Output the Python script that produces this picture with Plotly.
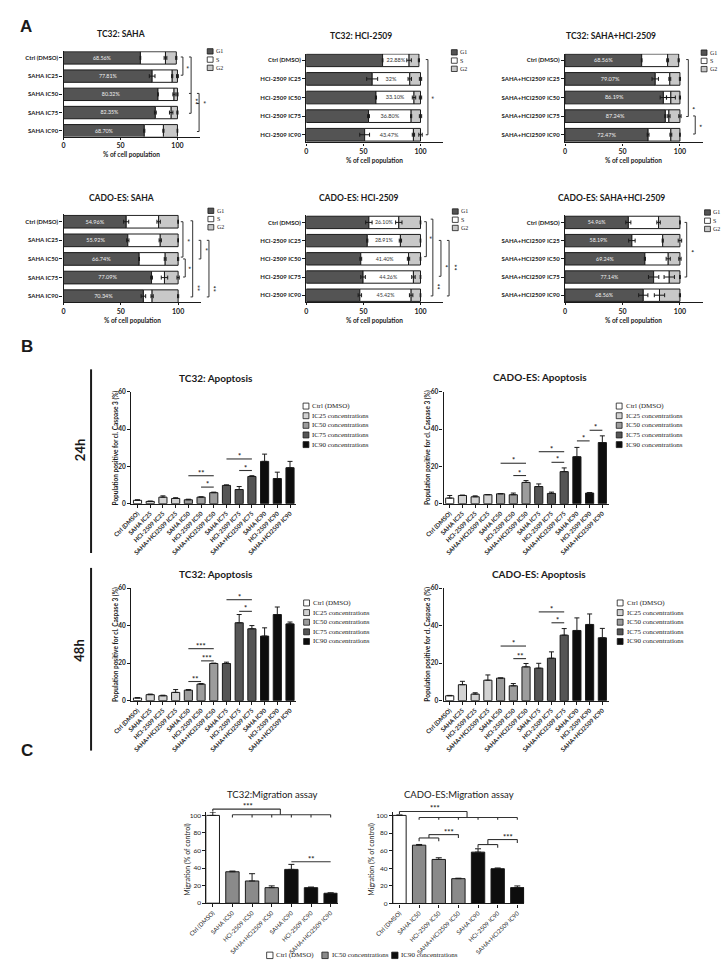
import plotly.graph_objects as go

W, H = 726, 972
SANS = "Lato"
SERIF = "Liberation Serif"
INK = "#1a1a1a"

# ======================= DATA =======================
# ---- Panel A: cell-cycle distribution (% of cell population) ----
phases = ["G1", "S", "G2"]
cats_saha = ["Ctrl (DMSO)", "SAHA IC25", "SAHA IC50", "SAHA IC75", "SAHA IC90"]
cats_hci = ["Ctrl (DMSO)", "HCI-2509 IC25", "HCI-2509 IC50", "HCI-2509 IC75", "HCI-2509 IC90"]
cats_combo = ["Ctrl (DMSO)", "SAHA+HCI2509 IC25", "SAHA+HCI2509 IC50",
              "SAHA+HCI2509 IC75", "SAHA+HCI2509 IC90"]
a_titles = ["TC32: SAHA", "TC32: HCI-2509", "TC32: SAHA+HCI-2509",
            "CADO-ES: SAHA", "CADO-ES: HCI-2509", "CADO-ES: SAHA+HCI-2509"]

tc32_saha_g1 = [67.5, 77.8, 82.9, 80.6, 70.9]
tc32_saha_s = [22.0, 17.6, 14.1, 13.9, 16.8]
tc32_saha_g2 = [9.5, 4.6, 3.0, 5.5, 12.3]
tc32_saha_g1_err = [0.3, 2.5, 0.3, 0.8, 0.5]
tc32_saha_s_err = [1.2, 0.5, 1.0, 1.5, 0.5]
tc32_saha_g2_err = [0.5, 0.8, 0.5, 0.5, 0.3]
tc32_saha_lbl = ["68.56%", "77.81%", "80.32%", "82.35%", "68.70%"]

tc32_hci_g1 = [66.8, 57.7, 61.0, 54.5, 51.1]
tc32_hci_s = [23.2, 32.9, 33.3, 37.3, 42.7]
tc32_hci_g2 = [8.6, 9.4, 5.7, 8.2, 6.2]
tc32_hci_g1_err = [0.3, 4.8, 0.5, 0.8, 4.3]
tc32_hci_s_err = [2.0, 1.5, 1.5, 0.5, 1.0]
tc32_hci_g2_err = [0.5, 1.0, 1.0, 1.0, 1.5]
tc32_hci_lbl = ["22.88%", "32%", "33.10%", "36.80%", "43.47%"]

tc32_combo_g1 = [66.7, 78.5, 85.6, 87.3, 72.3]
tc32_combo_s = [22.6, 12.7, 6.5, 3.1, 19.8]
tc32_combo_g2 = [9.6, 8.8, 7.9, 9.6, 7.9]
tc32_combo_g1_err = [0.3, 2.8, 2.8, 0.5, 0.8]
tc32_combo_s_err = [0.8, 0.8, 3.9, 1.0, 0.8]
tc32_combo_g2_err = [0.5, 0.5, 0.5, 1.0, 0.3]
tc32_combo_lbl = ["68.56%", "79.07%", "86.19%", "87.24%", "72.47%"]

cado_saha_g1 = [54.7, 56.1, 66.0, 76.8, 69.7]
cado_saha_s = [28.3, 28.3, 22.7, 11.3, 7.6]
cado_saha_g2 = [17.0, 15.6, 11.3, 11.9, 22.7]
cado_saha_g1_err = [2.2, 1.0, 0.3, 0.8, 2.0]
cado_saha_s_err = [1.5, 1.0, 0.8, 2.8, 1.0]
cado_saha_g2_err = [0.3, 0.3, 0.5, 1.0, 0.5]
cado_saha_lbl = ["54.96%", "55.92%", "66.74%", "77.09%", "70.34%"]

cado_hci_g1 = [54.8, 53.4, 47.7, 49.7, 46.9]
cado_hci_s = [26.2, 29.0, 41.8, 44.1, 44.9]
cado_hci_g2 = [19.0, 17.6, 10.5, 6.2, 8.2]
cado_hci_g1_err = [2.8, 0.5, 0.8, 2.0, 1.5]
cado_hci_s_err = [2.8, 1.0, 1.0, 1.5, 1.5]
cado_hci_g2_err = [0.3, 0.3, 0.3, 0.3, 0.3]
cado_hci_lbl = ["26.10%", "28.91%", "41.40%", "44.26%", "45.42%"]

cado_combo_g1 = [55.1, 58.2, 69.5, 77.1, 68.1]
cado_combo_s = [26.3, 26.8, 20.3, 13.6, 14.1]
cado_combo_g2 = [18.6, 15.0, 10.2, 9.3, 17.8]
cado_combo_g1_err = [2.2, 2.8, 0.5, 4.5, 4.0]
cado_combo_s_err = [1.5, 0.5, 1.8, 4.5, 4.5]
cado_combo_g2_err = [0.3, 1.5, 1.0, 0.3, 0.5]
cado_combo_lbl = ["54.96%", "58.19%", "69.24%", "77.14%", "68.56%"]

# ---- Panel B: apoptosis (population positive for cl. Caspase 3, %) ----
apop_cats = ["Ctrl (DMSO)", "SAHA IC25", "HCI-2509 IC25", "SAHA+HCI2509 IC25",
             "SAHA IC50", "HCI-2509 IC50", "SAHA+HCI2509 IC50",
             "SAHA IC75", "HCI-2509 IC75", "SAHA+HCI2509 IC75",
             "SAHA IC90", "HCI-2509 IC90", "SAHA+HCI2509 IC90"]
apop_groups = ["Ctrl (DMSO)", "IC25 concentrations", "IC50 concentrations",
               "IC75 concentrations", "IC90 concentrations"]
apop_group_of = [0, 1, 1, 1, 2, 2, 2, 3, 3, 3, 4, 4, 4]
b_titles = ["TC32: Apoptosis", "CADO-ES: Apoptosis", "TC32: Apoptosis", "CADO-ES: Apoptosis"]

tc32_24h = [1.8, 1.2, 3.5, 2.8, 2.1, 3.5, 5.9, 9.8, 7.6, 14.6, 22.7, 13.5, 19.3]
tc32_24h_err = [0.3, 0.2, 0.7, 0.4, 0.3, 0.2, 0.3, 0.3, 1.6, 0.4, 3.9, 3.4, 3.4]
cado_24h = [3.0, 4.4, 3.7, 4.8, 5.3, 4.8, 11.4, 9.2, 5.5, 17.2, 25.2, 5.7, 32.8]
cado_24h_err = [1.4, 0.2, 0.5, 0.1, 0.1, 0.9, 1.0, 1.4, 0.7, 2.0, 5.0, 0.3, 3.6]
tc32_48h = [1.4, 3.2, 2.6, 4.4, 5.6, 8.8, 19.8, 19.8, 41.5, 38.3, 34.4, 45.9, 40.9]
tc32_48h_err = [0.2, 0.3, 0.3, 1.5, 0.3, 0.3, 0.2, 0.7, 4.4, 1.7, 4.4, 4.0, 1.0]
cado_48h = [2.6, 8.5, 3.5, 10.9, 12.0, 7.9, 18.0, 17.3, 22.6, 34.9, 37.4, 40.6, 33.5]
cado_48h_err = [0.2, 1.8, 0.7, 2.8, 0.1, 1.2, 1.8, 2.6, 3.4, 3.5, 6.7, 5.6, 5.0]

# significance: (from category, to category, height, stars)
tc32_24h_sig = [(4, 6, 15.0, "**"), (5, 6, 8.9, "*"), (7, 9, 24.0, "*"), (8, 9, 17.8, "*")]
cado_24h_sig = [(4, 6, 21.7, "*"), (5, 6, 15.1, "*"), (7, 9, 27.9, "*"), (8, 9, 22.2, "*"),
                (10, 11, 33.7, "*"), (11, 12, 39.4, "*")]
tc32_48h_sig = [(4, 6, 27.7, "***"), (5, 6, 21.2, "***"), (4, 5, 10.2, "**"),
                (7, 9, 53.8, "*"), (8, 9, 47.6, "*")]
cado_48h_sig = [(4, 6, 29.1, "*"), (5, 6, 22.4, "**"), (7, 9, 47.3, "*"), (8, 9, 41.5, "*")]

# ---- Panel C: migration (% of control) ----
mig_cats = ["Ctrl (DMSO)", "SAHA IC50", "HCI-2509 IC50", "SAHA+HCI2509 IC50",
            "SAHA IC90", "HCI-2509 IC90", "SAHA+HCI2509 IC90"]
mig_groups = ["Ctrl (DMSO)", "IC50 concentrations", "IC90 concentrations"]
mig_group_of = [0, 1, 1, 1, 2, 2, 2]
c_titles = ["TC32:Migration assay", "CADO-ES:Migration assay"]
tc32_mig = [100.0, 35.8, 25.3, 17.7, 38.5, 17.7, 11.3]
tc32_mig_err = [3.8, 0.8, 8.3, 2.0, 5.7, 0.7, 0.5]
cado_mig = [100.0, 66.2, 50.0, 28.2, 58.3, 39.5, 18.0]
cado_mig_err = [0.5, 0.8, 1.9, 0.5, 3.8, 0.8, 1.9]

# ======================= BUILD =======================
fig = go.Figure()
L = dict(width=W, height=H, margin=dict(l=0, r=0, t=0, b=0), paper_bgcolor="white",
         plot_bgcolor="white", showlegend=False, barmode="overlay",
         font=dict(family=SANS, color=INK, size=7))
shapes, annos = [], []


def X(px):
    return px / W


def Y(py):
    return 1 - py / H


def seg(x0, y0, x1, y1, w=1.0, col="#333"):
    shapes.append(dict(type="line", xref="paper", yref="paper", x0=X(x0), y0=Y(y0),
                       x1=X(x1), y1=Y(y1), line=dict(color=col, width=w)))


def poly(pts, w=1.0, col="#333"):
    for (a, b), (c, d) in zip(pts[:-1], pts[1:]):
        seg(a, b, c, d, w, col)


def box(x0, y0, x1, y1, fill):
    shapes.append(dict(type="rect", xref="paper", yref="paper", x0=X(x0), y0=Y(y0),
                       x1=X(x1), y1=Y(y1), fillcolor=fill, line=dict(color=INK, width=0.8)))


def txt(px, py, s, size, bold=False, family=SANS, xa="center", ya="middle", angle=0, color=INK):
    annos.append(dict(xref="paper", yref="paper", x=X(px), y=Y(py), text=s, showarrow=False,
                      xanchor=xa, yanchor=ya, textangle=angle, borderpad=0,
                      font=dict(family=family, size=size, color=color,
                                weight="bold" if bold else "normal")))


def names(k):
    s = "" if k == 1 else str(k)
    return "xaxis" + s, "yaxis" + s, "x" + s, "y" + s


def axbase(**kw):
    d = dict(showline=True, linecolor=INK, linewidth=1.2, ticks="outside", ticklen=3,
             tickwidth=1, tickcolor=INK, showgrid=False, zeroline=False, fixedrange=True)
    d.update(kw)
    return d


# ---------------- Panel A ----------------
a_cats = [cats_saha, cats_hci, cats_combo, cats_saha, cats_hci, cats_combo]
a_vals = [[tc32_saha_g1, tc32_saha_s, tc32_saha_g2],
          [tc32_hci_g1, tc32_hci_s, tc32_hci_g2],
          [tc32_combo_g1, tc32_combo_s, tc32_combo_g2],
          [cado_saha_g1, cado_saha_s, cado_saha_g2],
          [cado_hci_g1, cado_hci_s, cado_hci_g2],
          [cado_combo_g1, cado_combo_s, cado_combo_g2]]
a_errs = [[tc32_saha_g1_err, tc32_saha_s_err, tc32_saha_g2_err],
          [tc32_hci_g1_err, tc32_hci_s_err, tc32_hci_g2_err],
          [tc32_combo_g1_err, tc32_combo_s_err, tc32_combo_g2_err],
          [cado_saha_g1_err, cado_saha_s_err, cado_saha_g2_err],
          [cado_hci_g1_err, cado_hci_s_err, cado_hci_g2_err],
          [cado_combo_g1_err, cado_combo_s_err, cado_combo_g2_err]]
a_lbls = [tc32_saha_lbl, tc32_hci_lbl, tc32_combo_lbl, cado_saha_lbl, cado_hci_lbl, cado_combo_lbl]
a_lbl_phase = ["G1", "S", "G1", "G1", "S", "G1"]
a_fill = ["#545454", "#ffffff", "#c8c8c8"]

a_geom = [
    dict(x0=45.7, xs=1.170, c0=54.3, cs=18.35, top=47.5, bot=133.5, tx=105, ty=30.7, lx=193.3, ly=47.7),
    dict(x0=295.0, xs=1.173, c0=56.7, cs=18.75, top=50.0, bot=139.5, tx=351, ty=32.3, lx=444.0, ly=48.7),
    dict(x0=560.7, xs=1.180, c0=56.7, cs=18.75, top=50.0, bot=139.5, tx=608, ty=32.3, lx=700.5, ly=49.0),
    dict(x0=45.7, xs=1.177, c0=219.3, cs=18.75, top=212.0, bot=300.5, tx=105, ty=195.0, lx=194.0, ly=208.3),
    dict(x0=295.0, xs=1.173, c0=220.0, cs=18.33, top=212.3, bot=300.5, tx=349, ty=195.0, lx=445.0, ly=209.0),
    dict(x0=560.7, xs=1.180, c0=220.0, cs=18.33, top=212.3, bot=300.5, tx=608, ty=195.7, lx=704.0, ly=210.0),
]
# brackets: (x in %, from idx, to idx, stars, star x %, star idx, extra caps)
a_brackets = [
    [(104.8, -0.05, 0.95, "*", 107.7, 0.5, []),
     (112.0, -0.05, 3.04, "**", 114.8, 2.4, [1.95]),
     (119.0, 1.95, 4.04, "*", 122.3, 2.45, [2.5])],
    [(106.5, -0.04, 4.0, "*", 108.8, 2.0, [])],
    [(107.3, -0.04, 3.02, "*", 109.8, 2.55, []),
     (113.3, 2.99, 3.96, "*", 115.8, 3.5, [])],
    [(104.2, 0.0, 1.9, "*", 107.0, 0.98, []),
     (106.2, 2.0, 2.97, "*", 108.6, 2.5, []),
     (112.7, -0.05, 4.04, "**", 115.5, 3.55, []),
     (119.8, 1.0, 2.0, "*", 122.7, 1.46, []),
     (126.9, 1.0, 4.04, "**", 129.7, 3.6, [])],
    [(105.1, -0.04, 1.88, "*", 107.4, 0.86, []),
     (110.8, -0.18, 4.04, "**", 114.2, 3.5, []),
     (117.9, 0.99, 2.96, "*", 121.3, 2.42, []),
     (125.0, 0.99, 4.04, "**", 128.7, 2.48, [])],
    [(105.9, 0.0, 3.0, "*", 108.8, 1.55, [])],
]

for i in range(6):
    k = i + 1
    g = a_geom[i]
    xa, ya, xr, yr = names(k)
    cats = a_cats[i]
    xend = g["x0"] + 120 * g["xs"]
    L[xa] = axbase(domain=[X(g["x0"]), X(xend)], range=[0, 120], tickvals=[0, 50, 100],
                   ticklen=2, anchor=yr, tickfont=dict(size=7, weight="bold"))
    L[ya] = axbase(domain=[Y(g["bot"]), Y(g["top"])], type="category", categoryorder="array",
                   categoryarray=cats,
                   range=[(g["bot"] - g["c0"]) / g["cs"], (g["top"] - g["c0"]) / g["cs"]],
                   anchor=xr, tickfont=dict(size=6, weight="bold"))
    base = [0.0] * 5
    ends = []
    for j in range(3):
        show = phases[j] == a_lbl_phase[i]
        fig.add_trace(go.Bar(
            x=a_vals[i][j], y=cats, base=base, orientation="h", width=0.68,
            marker=dict(color=a_fill[j], line=dict(color=INK, width=1)),
            text=a_lbls[i] if show else None, textposition="inside" if show else "none",
            insidetextanchor="middle", textangle=0,
            textfont=dict(family=SANS, size=7.5, color="#f0f0f0" if j == 0 else "#333"),
            xaxis=xr, yaxis=yr, hoverinfo="skip"))
        base = [b + v for b, v in zip(base, a_vals[i][j])]
        ends.append(base)
    for j in range(3):
        fig.add_trace(go.Scatter(
            x=ends[j], y=cats, mode="markers", marker=dict(size=1, opacity=0),
            error_x=dict(type="data", array=a_errs[i][j], color=INK, thickness=1, width=2),
            xaxis=xr, yaxis=yr, hoverinfo="skip"))
    # title, x-axis title
    txt(g["tx"], g["ty"], a_titles[i], 8.5, bold=True)
    txt((g["x0"] + xend) / 2, g["bot"] + 18.5, "% of cell population", 6.5, bold=True)
    # legend
    for j in range(3):
        yy = g["ly"] + 8.3 * j
        box(g["lx"], yy - 2.7, g["lx"] + 6, yy + 2.7, a_fill[j])
        txt(g["lx"] + 8, yy, phases[j], 6, family=SERIF, xa="left")
    # significance brackets
    for (bx, i0, i1, st, sx, si, extra) in a_brackets[i]:
        px = g["x0"] + bx * g["xs"]
        p0 = g["c0"] + i0 * g["cs"]
        p1 = g["c0"] + i1 * g["cs"]
        seg(px, p0, px, p1)
        for cy in [i0, i1] + extra:
            pc = g["c0"] + cy * g["cs"]
            seg(px - 2.2, pc, px, pc)
        txt(g["x0"] + sx * g["xs"], g["c0"] + si * g["cs"], st, 7.5, bold=True, angle=90)

# ---------------- Panel B ----------------
b_vals = [tc32_24h, cado_24h, tc32_48h, cado_48h]
b_errs = [tc32_24h_err, cado_24h_err, tc32_48h_err, cado_48h_err]
b_sigs = [tc32_24h_sig, cado_24h_sig, tc32_48h_sig, cado_48h_sig]
b_colors = ["#ffffff", "#d2d2d2", "#9c9c9c", "#555555", "#0d0d0d"]
b_geom = [
    dict(xl=115.2, c0=121.7, cs=13.05, y0=503.3, y60=390.7, tx=202.7, ty=376.7, lx=291.7, ly=405.0, ytx=99.3),
    dict(xl=436.0, c0=442.3, cs=13.06, y0=503.3, y60=390.7, tx=535.0, ty=376.0, lx=613.3, ly=405.0, ytx=419.3),
    dict(xl=115.2, c0=121.7, cs=13.05, y0=701.7, y60=588.3, tx=202.7, ty=574.0, lx=292.3, ly=603.3, ytx=99.3),
    dict(xl=436.0, c0=442.3, cs=13.06, y0=701.7, y60=588.3, tx=534.0, ty=574.0, lx=614.3, ly=603.3, ytx=419.3),
]
for i in range(4):
    k = 7 + i
    g = b_geom[i]
    xa, ya, xr, yr = names(k)
    xright = g["c0"] + 12.5 * g["cs"]
    L[xa] = axbase(domain=[X(g["xl"]), X(xright)], type="category", categoryorder="array",
                   categoryarray=apop_cats, range=[(g["xl"] - g["c0"]) / g["cs"], 12.5],
                   tickangle=-45, tickfont=dict(size=6, weight="bold"), anchor=yr)
    L[ya] = axbase(domain=[Y(g["y0"]), Y(g["y60"])], range=[0, 60], tickvals=[0, 20, 40, 60],
                   tickfont=dict(size=6.5, weight="bold"), anchor=xr)
    fig.add_trace(go.Bar(
        x=apop_cats, y=b_vals[i], width=0.64,
        marker=dict(color=[b_colors[gi] for gi in apop_group_of], line=dict(color=INK, width=1)),
        error_y=dict(type="data", symmetric=False, array=b_errs[i], arrayminus=[0] * 13,
                     color=INK, thickness=1, width=2.5),
        xaxis=xr, yaxis=yr, hoverinfo="skip"))
    ys = (g["y0"] - g["y60"]) / 60.0
    txt(g["tx"], g["ty"], b_titles[i], 10, bold=True)
    txt(g["ytx"], (g["y0"] + g["y60"]) / 2, "Population positive for cl. Caspase 3 (%)",
        6.5, bold=True, angle=-90)
    for j, name in enumerate(apop_groups):
        yy = g["ly"] + 9.7 * j
        box(g["lx"], yy - 3, g["lx"] + 6, yy + 3, b_colors[j])
        txt(g["lx"] + 8.5, yy, name, 7, family=SERIF, xa="left")
    for (c0_, c1_, hv, st) in b_sigs[i]:
        x0p = g["c0"] + c0_ * g["cs"]
        x1p = g["c0"] + c1_ * g["cs"]
        yp = g["y0"] - hv * ys
        seg(x0p, yp, x1p, yp, w=1.1)
        txt((x0p + x1p) / 2, yp - 2.5, st, 7.5, bold=True)

# 24h / 48h labels
txt(62, 449, "24h", 13, bold=True, angle=-90)
seg(74, 368, 74, 553, w=2, col=INK)
txt(62, 651, "48h", 13, bold=True, angle=-90)
seg(74, 568, 74, 752, w=2, col=INK)

# ---------------- Panel C ----------------
c_vals = [tc32_mig, cado_mig]
c_errs = [tc32_mig_err, cado_mig_err]
c_colors = ["#ffffff", "#8a8a8a", "#0d0d0d"]
c_geom = [
    dict(xl=192.5, c0=199.0, cs=20.17, y0=905.7, y100=817.3, tx=260.0, ty=796.0, ytx=173.0),
    dict(xl=384.0, c0=390.7, cs=20.17, y0=906.0, y100=817.3, tx=451.7, ty=796.0, ytx=361.7),
]
# bracket polylines in (category, value) units
c_polys = [
    [[(0, 104.5), (0, 107.2), (3.44, 107.2), (3.44, 100.8)],
     [(1, 97.5), (1, 100.8), (6, 100.8), (6, 97.5)],
     [(2, 100.8), (2, 97.5)], [(3, 100.8), (3, 97.5)], [(4, 100.8), (4, 97.5)], [(5, 100.8), (5, 97.5)],
     [(4, 47.2), (6, 47.2)]],
    [[(0, 101.5), (0, 104.5), (3.44, 104.5), (3.44, 97.7)],
     [(1, 95.1), (1, 97.7), (6, 97.7), (6, 95.1)],
     [(2, 97.7), (2, 95.1)], [(3, 97.7), (3, 95.1)], [(4, 97.7), (4, 95.1)], [(5, 97.7), (5, 95.1)],
     [(1, 70.7), (1, 74.4), (2, 74.4), (2, 70.7)],
     [(1.5, 74.4), (1.5, 78.2), (3, 78.2), (3, 74.4)],
     [(4, 63.2), (4, 66.9), (5, 66.9), (5, 63.2)],
     [(4.5, 66.9), (4.5, 72.6), (6, 72.6), (6, 68.8)]],
]
c_stars = [
    [(1.8, 107.2, "***"), (5.0, 47.2, "**")],
    [(1.82, 104.5, "***"), (2.5, 78.2, "***"), (5.5, 72.6, "***")],
]
for i in range(2):
    k = 11 + i
    g = c_geom[i]
    xa, ya, xr, yr = names(k)
    xright = g["c0"] + 6.35 * g["cs"]
    ys = (g["y0"] - g["y100"]) / 100.0
    L[xa] = axbase(domain=[X(g["xl"]), X(xright)], type="category", categoryorder="array",
                   categoryarray=mig_cats, range=[(g["xl"] - g["c0"]) / g["cs"], 6.35],
                   tickangle=-45, tickfont=dict(size=6), anchor=yr)
    L[ya] = axbase(domain=[Y(g["y0"]), Y(g["y0"] - 104 * ys)], range=[0, 104],
                   tickvals=[0, 20, 40, 60, 80, 100], tickfont=dict(size=6.5), anchor=xr)
    fig.add_trace(go.Bar(
        x=mig_cats, y=c_vals[i], width=0.68,
        marker=dict(color=[c_colors[gi] for gi in mig_group_of], line=dict(color=INK, width=1)),
        error_y=dict(type="data", symmetric=False, array=c_errs[i], arrayminus=[0] * 7,
                     color=INK, thickness=1, width=3),
        xaxis=xr, yaxis=yr, hoverinfo="skip"))
    txt(g["tx"], g["ty"], c_titles[i], 9.5)
    txt(g["ytx"], (g["y0"] + g["y100"]) / 2, "Migration (% of control)", 7, angle=-90)
    for pts in c_polys[i]:
        poly([(g["c0"] + a * g["cs"], g["y0"] - b * ys) for a, b in pts], w=1.1)
    for (cx, cv, st) in c_stars[i]:
        txt(g["c0"] + cx * g["cs"], g["y0"] - cv * ys - 2.5, st, 7.5, bold=True)

# panel C legend
c_leg_x = [254.3, 311.0, 382.7]
for j, name in enumerate(mig_groups):
    box(c_leg_x[j], 955.0, c_leg_x[j] + 6.5, 961.5, c_colors[j])
    txt(c_leg_x[j] + 9, 958.3, name, 7, family=SERIF, xa="left")

# panel letters
txt(7, 23, "A", 17, bold=True, family="Liberation Sans")
txt(8, 345, "B", 17, bold=True, family="Liberation Sans")
txt(8, 752, "C", 17, bold=True, family="Liberation Sans")

L["shapes"] = shapes
L["annotations"] = annos
fig.update_layout(**L)
fig.write_html("out.html", config={"displayModeBar": False},
               post_script="document.body.style.margin='0px';document.body.style.overflow='hidden';")
